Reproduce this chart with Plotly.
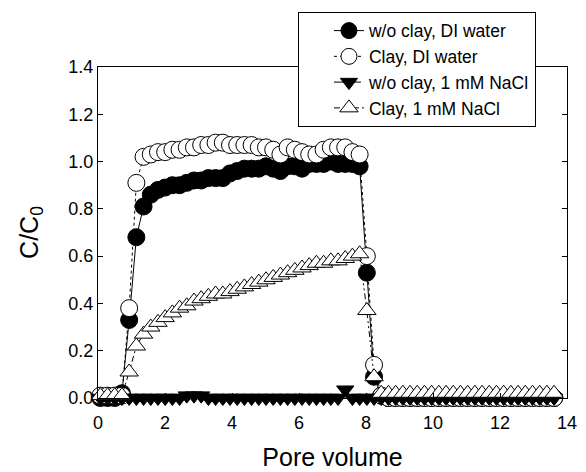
import plotly.graph_objects as go

pore_volume = [0.07, 0.285, 0.50, 0.715, 0.93, 1.145, 1.36, 1.575, 1.79, 2.005,
               2.22, 2.435, 2.65, 2.865, 3.08, 3.295, 3.51, 3.725, 3.94, 4.155,
               4.37, 4.585, 4.80, 5.015, 5.23, 5.445, 5.66, 5.875, 6.09, 6.305,
               6.52, 6.735, 6.95, 7.165, 7.38, 7.595, 7.81, 8.025, 8.24, 8.455,
               8.67, 8.885, 9.10, 9.315, 9.53, 9.745, 9.96, 10.175, 10.39, 10.605,
               10.82, 11.035, 11.25, 11.465, 11.68, 11.895, 12.11, 12.325, 12.54, 12.755,
               12.97, 13.185, 13.40, 13.615]

noclay_di = [0.0, 0.0, 0.0, 0.02, 0.33, 0.68, 0.81, 0.86, 0.88, 0.89,
             0.90, 0.90, 0.91, 0.92, 0.92, 0.93, 0.93, 0.93, 0.95, 0.96,
             0.97, 0.97, 0.97, 0.98, 0.97, 0.96, 0.98, 0.98, 0.97, 0.99,
             0.99, 0.99, 1.00, 0.99, 0.99, 0.99, 0.98, 0.53, 0.09, 0.01,
             0.0, 0.0, 0.0, 0.0, 0.0, 0.0, 0.0, 0.0, 0.0, 0.0,
             0.0, 0.0, 0.0, 0.0, 0.0, 0.0, 0.0, 0.0, 0.0, 0.0,
             0.0, 0.0, 0.0, 0.0]

clay_di = [0.01, 0.01, 0.01, 0.01, 0.38, 0.91, 1.02, 1.03, 1.04, 1.04,
           1.05, 1.05, 1.06, 1.06, 1.07, 1.07, 1.08, 1.08, 1.07, 1.07,
           1.07, 1.07, 1.06, 1.06, 1.05, 1.03, 1.06, 1.05, 1.04, 1.03,
           1.03, 1.05, 1.06, 1.06, 1.06, 1.04, 1.03, 0.60, 0.14, 0.01,
           0.0, 0.0, 0.0, 0.0, 0.0, 0.0, 0.0, 0.0, 0.0, 0.0,
           0.0, 0.0, 0.0, 0.0, 0.0, 0.0, 0.0, 0.0, 0.0, 0.0,
           0.0, 0.0, 0.0, 0.0]

noclay_nacl = [0.0, 0.0, 0.0, 0.0, 0.0, 0.0, 0.0, 0.0, 0.0, 0.0,
               0.0, 0.0, 0.01, 0.01, 0.01, 0.0, 0.0, 0.0, 0.0, 0.0,
               0.0, 0.0, 0.0, 0.0, 0.0, 0.0, 0.0, 0.0, 0.0, 0.0,
               0.0, 0.0, 0.0, 0.0, 0.035, 0.0, 0.0, 0.0, 0.0, 0.0,
               0.0, 0.0, 0.0, 0.0, 0.0, 0.0, 0.0, 0.0, 0.0, 0.0,
               0.0, 0.0, 0.0, 0.0, 0.0, 0.0, 0.0, 0.0, 0.0, 0.0,
               0.0, 0.0, 0.0, 0.0]

clay_nacl = [0.01, 0.01, 0.01, 0.01, 0.11, 0.22, 0.27, 0.30, 0.32, 0.34,
             0.36, 0.38, 0.39, 0.41, 0.42, 0.43, 0.44, 0.44, 0.45, 0.46,
             0.47, 0.48, 0.49, 0.50, 0.51, 0.52, 0.53, 0.54, 0.55, 0.56,
             0.57, 0.57, 0.58, 0.58, 0.59, 0.60, 0.61, 0.37, 0.09, 0.02,
             0.02, 0.02, 0.02, 0.02, 0.02, 0.02, 0.02, 0.02, 0.02, 0.02,
             0.02, 0.02, 0.02, 0.02, 0.02, 0.02, 0.02, 0.02, 0.02, 0.02,
             0.02, 0.02, 0.02, 0.02]

x_ticks = [0, 2, 4, 6, 8, 10, 12, 14]
y_ticks = [0.0, 0.2, 0.4, 0.6, 0.8, 1.0, 1.2, 1.4]

series = [
    ("w/o clay, DI water", noclay_di, "circle", "black", "solid", 17),
    ("Clay, DI water", clay_di, "circle", "white", "dot", 17),
    ("w/o clay, 1 mM NaCl", noclay_nacl, "triangle-down", "black", "dash", 15),
    ("Clay, 1 mM NaCl", clay_nacl, "triangle-up", "white", "6px,3px,2px,3px,2px,3px", 16),
]

fig = go.Figure()
for name, ys, sym, fill, dash, size in series:
    fig.add_trace(go.Scatter(
        x=pore_volume, y=ys, name=name, mode="lines+markers",
        line=dict(color="black", width=1, dash=dash),
        marker=dict(symbol=sym, size=size, color=fill,
                    line=dict(color="black", width=1)),
        cliponaxis=False,
    ))

font_family = "Liberation Sans, Arial, sans-serif"
fig.update_layout(
    width=586, height=472,
    margin=dict(l=98, r=19, t=63, b=74),
    paper_bgcolor="white", plot_bgcolor="white",
    font=dict(family=font_family, color="black", size=18),
    showlegend=True,
    legend=dict(
        x=0.4264, y=1.167, xanchor="left", yanchor="top",
        bordercolor="black", borderwidth=1, bgcolor="white",
        font=dict(size=17.5), tracegroupgap=0,
        indentation=30, entrywidth=210, entrywidthmode="pixels",
    ),
    xaxis=dict(
        range=[0, 14], tickvals=x_ticks, ticktext=[str(v) for v in x_ticks],
        ticks="inside", ticklen=5, tickcolor="black",
        showline=True, linecolor="black", linewidth=1, mirror=True,
        showgrid=False, zeroline=False, automargin=False,
        tickfont=dict(size=18), ticklabelstandoff=8,
        title=dict(text="Pore volume", font=dict(size=25), standoff=16),
    ),
    yaxis=dict(
        range=[0, 1.4], tickvals=y_ticks, ticktext=[f"{v:.1f}" for v in y_ticks],
        ticks="inside", ticklen=5, tickcolor="black",
        showline=True, linecolor="black", linewidth=1, mirror="ticks",
        showgrid=False, zeroline=False, automargin=False,
        tickfont=dict(size=18),
        title=dict(text="C/C<sub>0</sub>", font=dict(size=25), standoff=22),
    ),
)

fig.write_html("out.html")
